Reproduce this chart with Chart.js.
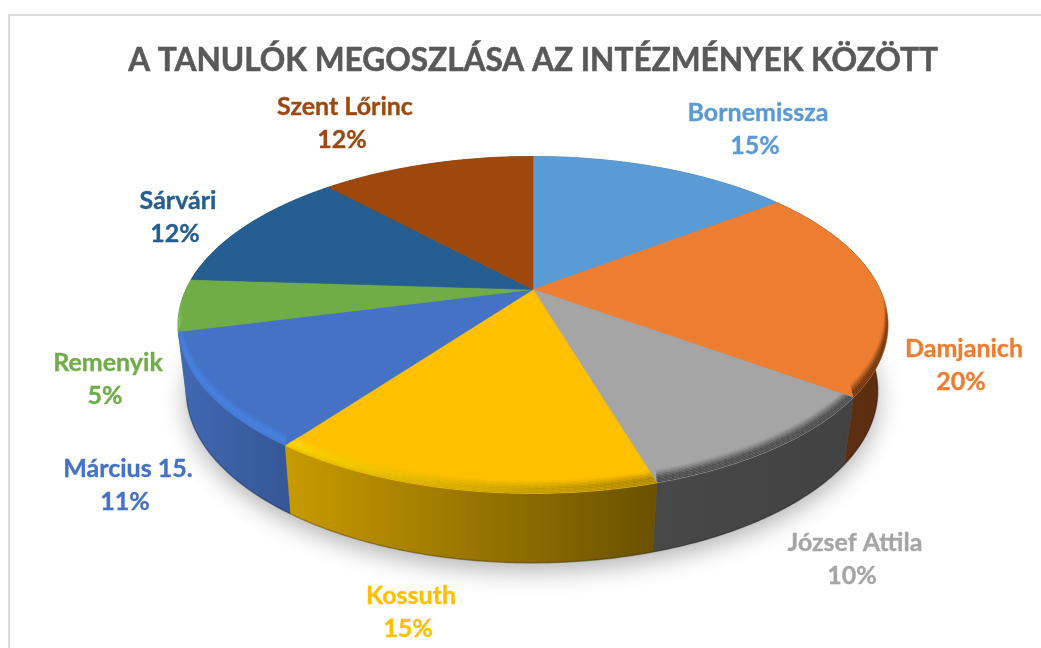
<!DOCTYPE html>
<html><head><meta charset="utf-8">
<style>html,body{margin:0;padding:0;background:#fff}#w{width:1041px;height:648px}</style>
<script src="https://cdn.jsdelivr.net/npm/chart.js@4"></script>
</head><body><div id="w"><canvas id="c" width="1041" height="648"></canvas></div>
<script>
const titleText = "A TANULÓK MEGOSZLÁSA AZ INTÉZMÉNYEK KÖZÖTT";
const categories = ["Bornemissza","Damjanich","József Attila","Kossuth","Március 15.","Remenyik","Sárvári","Szent Lőrinc"];
// estimated unrounded shares read from the slice boundaries; labels show them rounded
const shares = [14.6,20.4,10.4,14.7,10.9,5.0,12.1,11.9];

const topColors  = ["#5B9BD5","#ED7D31","#A5A5A5","#FFC000","#4472C4","#70AD47","#255E91","#9E480E"];
const sideLeft   = ["#3f6f9c","#5f3012","#484848","#c89b00","#4069b4","#4f8a30","#1a4468","#6e320a"];
const sideRight  = ["#3f6f9c","#5c2e11","#424242","#6a5100","#345795","#4f8a30","#1a4468","#6e320a"];
const rimLeft    = ["#5B9BD5","#7a3f18","#505050","#FFD800","#4a82e2","#84cc58","#255E91","#9E480E"];
const rimRight   = ["#5B9BD5","#6e3814","#505050","#a98300","#4a82e2","#84cc58","#255E91","#9E480E"];
const labelOffsets = [[223,-177],[429,59],[320,253],[-124,306],[-407,179],[-427,73],[-357,-89],[-190,-183]];

const PERSP=0.2107, TOP_K=0.464, BOT_R=0.974, BOT_K=0.474, BOT_DY=65, BOT_DX=-1, RIM_H=13, RIM_X=4;
const TITLE_SIZE=31.6;
const hex=h=>[1,3,5].map(i=>parseInt(h.slice(i,i+2),16));
const mix=(a,b,t)=>a.map((v,i)=>Math.round(v+(b[i]-v)*t));
const rgb=c=>`rgb(${c[0]},${c[1]},${c[2]})`;
function proj(a,th,rho,bottom){
  const u=rho*Math.sin(th), v=-rho*Math.cos(th), w=1-PERSP*v, R=a.outerRadius;
  return bottom ? {x:a.x+BOT_DX+BOT_R*R*u/w, y:a.y+BOT_DY+BOT_K*R*v/w}
                : {x:a.x+R*u/w, y:a.y+TOP_K*R*v/w};
}
function rimPt(a,th,t){
  const p=proj(a,th,1,false);
  return {x:p.x-Math.sin(th)*RIM_X*(1-t), y:p.y-RIM_H*(1-t)};
}
const tht=a=>[a.startAngle+Math.PI/2,a.endAngle+Math.PI/2];
function ring(a,t0,t1,rho,bottom){
  const n=Math.max(2,Math.ceil(Math.abs(t1-t0)/0.01)),out=[];
  for(let i=0;i<=n;i++) out.push(proj(a,t0+(t1-t0)*i/n,rho,bottom));
  return out;
}
function poly(ctx,pts){ctx.beginPath();pts.forEach((p,i)=>i?ctx.lineTo(p.x,p.y):ctx.moveTo(p.x,p.y));ctx.closePath();}

const pie3d={
  id:'pie3d',
  beforeDraw(chart){
    const ctx=chart.ctx;ctx.save();
    ctx.fillStyle='#fff';ctx.fillRect(0,0,chart.width,chart.height);
    ctx.strokeStyle='#dcdcdc';ctx.lineWidth=2;
    ctx.beginPath();ctx.moveTo(9,chart.height+2);ctx.lineTo(9,15);ctx.lineTo(chart.width+2,15);ctx.stroke();
    ctx.restore();
  },
  beforeDatasetsDraw(chart){
    const ctx=chart.ctx, arcs=chart.getDatasetMeta(0).data;
    ctx.save();
    const a0=arcs[0];
    ctx.save();ctx.shadowColor='rgba(0,0,0,0.30)';ctx.shadowBlur=24;ctx.shadowOffsetY=8;ctx.fillStyle='#999';
    poly(ctx,ring(a0,0,Math.PI*2,1,true));ctx.fill();ctx.restore();
    const order=arcs.map((a,i)=>{const [s,e]=tht(a);return{a,i,v:-Math.cos((s+e)/2)};}).sort((p,q)=>p.v-q.v);
    order.forEach(({a,i})=>{
      const [s,e]=tht(a), t=ring(a,s,e,1,false), b=ring(a,s,e,1,true);
      const pts=t.concat(b.slice().reverse());
      const xs=pts.map(p=>p.x), x0=Math.min(...xs), x1=Math.max(...xs);
      const g=ctx.createLinearGradient(x0,0,x1,0);g.addColorStop(0,sideLeft[i]);g.addColorStop(1,sideRight[i]);
      poly(ctx,pts);ctx.fillStyle=g;ctx.fill();ctx.strokeStyle=g;ctx.lineWidth=0.5;ctx.stroke();
      ctx.beginPath();b.forEach((p,k)=>k?ctx.lineTo(p.x,p.y):ctx.moveTo(p.x,p.y));
      ctx.strokeStyle='rgba(0,0,0,0.22)';ctx.lineWidth=1.6;ctx.stroke();
    });
    arcs.forEach((a,i)=>{
      const [s,e]=tht(a);
      poly(ctx,[{x:a.x,y:a.y}].concat(ring(a,s,e,1,false)));
      ctx.fillStyle=topColors[i];ctx.fill();ctx.strokeStyle=topColors[i];ctx.lineWidth=0.6;ctx.stroke();
    });
    const dT=Math.PI/180, bands=9;
    arcs.forEach((a,i)=>{
      const [s,e]=tht(a), top=hex(topColors[i]), L=hex(rimLeft[i]), Rr=hex(rimRight[i]), side=hex(sideLeft[i]);
      const xa=proj(a,s,1), xb=proj(a,e,1), xl=Math.min(xa.x,xb.x), xr=Math.max(xa.x,xb.x);
      ctx.save();
      poly(ctx,[{x:a.x,y:a.y}].concat(ring(a,s,e,1,false)));ctx.clip();
      for(let th=s;th<e-1e-6;th+=dT){
        const th2=Math.min(e,th+dT+0.004), m=(th+th2)/2, v=-Math.cos(m);
        const str=Math.max(0,Math.min(1,(v+0.02)/0.22));
        if(str<=0) continue;
        const xm=proj(a,m,1).x, f=Math.max(0,Math.min(1,(xm-xl)/Math.max(1,xr-xl)));
        const rc=mix(L,Rr,f);
        for(let k=0;k<bands;k++){
          const t=(k+0.5)/bands;
          const c=t<0.6?mix(top,rc,t/0.6):mix(rc,mix(rc,side,0.3),(t-0.6)/0.4);
          poly(ctx,[rimPt(a,th,k/bands),rimPt(a,th2,k/bands),rimPt(a,th2,(k+1)/bands),rimPt(a,th,(k+1)/bands)]);
          ctx.fillStyle=rgb(mix(top,c,str));ctx.fill();
        }
      }
      ctx.restore();
    });
    ctx.textAlign='center';ctx.textBaseline='middle';ctx.font='bold 25px Lato';ctx.lineWidth=0.35;ctx.lineJoin='round';
    arcs.forEach((a,i)=>{
      const [dx,dy]=labelOffsets[i], pct=Math.round(shares[i])+"%";
      ctx.fillStyle=topColors[i];ctx.strokeStyle=topColors[i];
      ctx.fillText(categories[i],a.x+dx+2,a.y+dy);ctx.strokeText(categories[i],a.x+dx+2,a.y+dy);
      ctx.fillText(pct,a.x+dx-1,a.y+dy+33);ctx.strokeText(pct,a.x+dx-1,a.y+dy+33);
    });
    ctx.restore();
    return false;
  },
  afterDraw(chart){
    const tb=chart.titleBlock, ctx=chart.ctx;
    ctx.save();ctx.font=`bold ${TITLE_SIZE}px Lato`;ctx.textAlign='center';ctx.textBaseline='middle';
    ctx.strokeStyle='#595959';ctx.lineWidth=0.55;ctx.lineJoin='round';
    const lh=tb.options.font.lineHeight ?? TITLE_SIZE*1.2;
    ctx.strokeText(titleText,(tb.left+tb.right)/2,tb.top+tb.options.padding.top+TITLE_SIZE*0.6);
    ctx.restore();
  }
};

new Chart(document.getElementById('c'),{
  type:'pie',
  data:{labels:categories,datasets:[{data:shares,backgroundColor:topColors,borderWidth:0,radius:347}]},
  options:{
    responsive:false,animation:false,
    layout:{padding:{left:25,bottom:149}},
    plugins:{
      legend:{display:false},tooltip:{enabled:false},
      title:{display:true,text:titleText,color:'#595959',font:{family:'Lato',size:TITLE_SIZE,weight:'bold'},padding:{top:42,bottom:0}}
    }
  },
  plugins:[pie3d]
});
</script></body></html>
